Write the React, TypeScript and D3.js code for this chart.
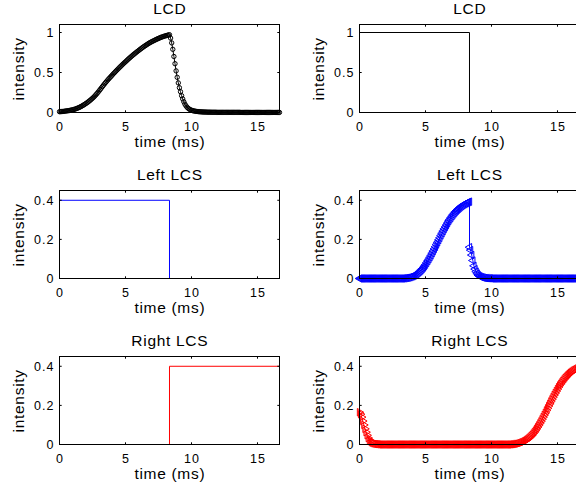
import React from "react";
import * as d3 from "d3";

// One refresh frame, split in two halves by the shutter switch.
const FRAME_MS = 16.6667;
const SWITCH_MS = 8.3333;
const SAMPLE_COUNT = 201;

const xTicks = [0, 5, 10, 15];
const yTicksLcd = [0, 0.5, 1];
const yTicksLcs = [0, 0.2, 0.4];

// Ideal drive signals (piecewise constant)
const stepTimes = [0, SWITCH_MS, SWITCH_MS, FRAME_MS];
const lcdDrive = [1, 1, 0, 0];
const leftShutter = [0.4, 0.4, 0, 0];
const rightShutter = [0, 0, 0.4, 0.4];

// Measured LCD response, one value per sample
const lcdResponse = [
  0.010, 0.011, 0.012, 0.013, 0.015, 0.017, 0.019, 0.021, 0.023, 0.025,
  0.028, 0.031, 0.034, 0.038, 0.042, 0.047, 0.052, 0.058, 0.064, 0.071,
  0.078, 0.086, 0.094, 0.103, 0.112, 0.122, 0.132, 0.143, 0.154, 0.166,
  0.178, 0.191, 0.205, 0.220, 0.236, 0.253, 0.270, 0.288, 0.306, 0.324,
  0.342, 0.359, 0.376, 0.392, 0.408, 0.424, 0.439, 0.454, 0.469, 0.484,
  0.498, 0.513, 0.527, 0.541, 0.555, 0.569, 0.582, 0.596, 0.609, 0.622,
  0.634, 0.647, 0.660, 0.673, 0.685, 0.697, 0.709, 0.721, 0.732, 0.743,
  0.754, 0.765, 0.775, 0.786, 0.797, 0.807, 0.817, 0.827, 0.836, 0.845,
  0.854, 0.863, 0.871, 0.879, 0.886, 0.893, 0.900, 0.907, 0.914, 0.920,
  0.926, 0.932, 0.938, 0.943, 0.948, 0.953, 0.957, 0.961, 0.965, 0.969,
  0.972,
  0.930, 0.870, 0.790, 0.700, 0.610, 0.520, 0.440, 0.370, 0.310, 0.260,
  0.210, 0.170, 0.135, 0.105, 0.083, 0.065, 0.052, 0.042, 0.034, 0.028,
  0.024, 0.020, 0.017, 0.015, 0.013, 0.011, 0.010, 0.009, 0.008, 0.007,
  0.006, 0.006, 0.005, 0.005, 0.004, 0.004, 0.004, 0.003, 0.003, 0.003,
  0.003, 0.003, 0.002, 0.002, 0.002, 0.002, 0.002, 0.002, 0.002, 0.002,
  0.002, 0.002, 0.002, 0.002, 0.002, 0.002, 0.002, 0.002, 0.002, 0.002,
  0.002, 0.002, 0.002, 0.002, 0.001, 0.001, 0.001, 0.001, 0.001, 0.001,
  0.001, 0.001, 0.001, 0.001, 0.001, 0.001, 0.001, 0.001, 0.001, 0.001,
  0.001, 0.001, 0.001, 0.001, 0.001, 0.001, 0.001, 0.001, 0.001, 0.001,
  0.001, 0.001, 0.001, 0.001, 0.001, 0.001, 0.001, 0.001, 0.001, 0.001,
];

// Light reaching the left eye: samples up to the switch, then after it
const leftSeenOpen = [
  0, 0, 0, 0, 0, 0, 0, 0, 0, 0,
  0, 0, 0, 0, 0, 0, 0, 0, 0, 0,
  0, 0, 0, 0, 0, 0, 0, 0, 0, 0,
  0, 0, 0, 0, 0, 0, 0, 0, 0, 0,
  0.001, 0.001, 0.002, 0.003, 0.004, 0.005, 0.007, 0.009, 0.011, 0.013,
  0.016, 0.019, 0.023, 0.027, 0.032, 0.037, 0.043, 0.049, 0.056, 0.063,
  0.071, 0.080, 0.089, 0.098, 0.108, 0.118, 0.129, 0.140, 0.151, 0.162,
  0.174, 0.185, 0.197, 0.208, 0.220, 0.231, 0.242, 0.253, 0.263, 0.273,
  0.283, 0.293, 0.302, 0.310, 0.318, 0.326, 0.333, 0.340, 0.346, 0.352,
  0.357, 0.362, 0.367, 0.371, 0.375, 0.379, 0.382, 0.385, 0.388, 0.391,
  0.393,
];
const leftSeenClosed = [
  0.160, 0.145, 0.120, 0.092, 0.065, 0.048, 0.035, 0.025, 0.017, 0.012,
  0.009, 0.007, 0.005, 0.004, 0.003, 0.002, 0.002, 0.001, 0.001, 0.001,
  0, 0, 0, 0, 0, 0, 0, 0, 0, 0,
  0, 0, 0, 0, 0, 0, 0, 0, 0, 0,
  0, 0, 0, 0, 0, 0, 0, 0, 0, 0,
  0, 0, 0, 0, 0, 0, 0, 0, 0, 0,
  0, 0, 0, 0, 0, 0, 0, 0, 0, 0,
  0, 0, 0, 0, 0, 0, 0, 0, 0, 0,
  0, 0, 0, 0, 0, 0, 0, 0, 0, 0,
  0, 0, 0, 0, 0, 0, 0, 0, 0, 0,
  0,
];

// Light reaching the right eye over the whole frame
const rightSeen = [
  0.165, 0.155, 0.140, 0.120, 0.100, 0.080, 0.063, 0.047, 0.033, 0.024,
  0.017, 0.012, 0.009, 0.007, 0.005, 0.004, 0.003, 0.002, 0.002, 0.001,
  0.001, 0, 0, 0, 0, 0, 0, 0, 0, 0,
  0, 0, 0, 0, 0, 0, 0, 0, 0, 0,
  0, 0, 0, 0, 0, 0, 0, 0, 0, 0,
  0, 0, 0, 0, 0, 0, 0, 0, 0, 0,
  0, 0, 0, 0, 0, 0, 0, 0, 0, 0,
  0, 0, 0, 0, 0, 0, 0, 0, 0, 0,
  0, 0, 0, 0, 0, 0, 0, 0, 0, 0,
  0, 0, 0, 0, 0, 0, 0, 0, 0, 0,
  0, 0, 0, 0, 0, 0, 0, 0, 0, 0,
  0, 0, 0, 0, 0, 0, 0, 0, 0, 0,
  0, 0, 0, 0, 0, 0, 0, 0, 0, 0,
  0, 0, 0, 0, 0, 0, 0, 0, 0, 0,
  0.001, 0.001, 0.002, 0.003, 0.004, 0.005, 0.007, 0.009, 0.011, 0.013,
  0.016, 0.019, 0.023, 0.027, 0.032, 0.037, 0.043, 0.049, 0.056, 0.063,
  0.071, 0.080, 0.089, 0.098, 0.108, 0.118, 0.129, 0.140, 0.151, 0.162,
  0.174, 0.185, 0.197, 0.208, 0.220, 0.231, 0.242, 0.253, 0.263, 0.273,
  0.283, 0.293, 0.302, 0.310, 0.318, 0.326, 0.333, 0.340, 0.346, 0.352,
  0.357, 0.362, 0.367, 0.371, 0.375, 0.379, 0.382, 0.385, 0.388, 0.391,
  0.393,
];

const sampleTimes = d3.range(SAMPLE_COUNT).map((i) => (i * FRAME_MS) / (SAMPLE_COUNT - 1));
const HALF = (SAMPLE_COUNT - 1) / 2;

type Pt = [number, number];
const zip = (ts: number[], vs: number[]): Pt[] => vs.map((v, i) => [ts[i], v]);

const W = 576;
const H = 491;
const COL_X = [59.5, 359.5];
const ROW_Y = [24.5, 190.5, 356.5];
const PW = 220;
const PH = 88;
const FONT = "'Liberation Sans', Arial, Helvetica, sans-serif";
const TICK_FS = 12.5;
const TICK_LS = 1;
const LABEL_FS = 15.5;
const LABEL_LS = 0.7;

type Series = {
  points: Pt[];
  color: string;
  marker?: "circle" | "triLeft" | "triRight";
};

function Panel(props: {
  left: number;
  top: number;
  title: string;
  yMax: number;
  yTicks: number[];
  series: Series[];
}) {
  const { left, top, title, yMax, yTicks, series } = props;
  const x = d3.scaleLinear().domain([0, FRAME_MS]).range([left, left + PW]);
  const y = d3.scaleLinear().domain([0, yMax]).range([top + PH, top]);
  const line = d3
    .line<Pt>()
    .x((d) => x(d[0]))
    .y((d) => y(d[1]));
  const circle = d3.symbol(d3.symbolCircle, 15)() as string;
  const tri = d3.symbol(d3.symbolTriangle, 24)() as string;
  const bottom = top + PH;
  const tl = 2.2;
  return (
    <g>
      {series.map((s, k) => (
        <g key={k}>
          <path d={line(s.points) as string} fill="none" stroke={s.color} strokeWidth={1} />
          {s.marker &&
            s.points.map((p, j) => (
              <path
                key={j}
                d={s.marker === "circle" ? circle : tri}
                transform={`translate(${x(p[0])},${y(p[1])})${
                  s.marker === "triLeft" ? " rotate(-90)" : s.marker === "triRight" ? " rotate(90)" : ""
                }`}
                fill="none"
                stroke={s.color}
                strokeWidth={1}
              />
            ))}
        </g>
      ))}
      <rect x={left} y={top} width={PW} height={PH} fill="none" stroke="#000" strokeWidth={1} />
      {xTicks.map((t) => (
        <g key={"x" + t}>
          <line x1={x(t)} x2={x(t)} y1={bottom} y2={bottom - tl} stroke="#000" />
          <line x1={x(t)} x2={x(t)} y1={top} y2={top + tl} stroke="#000" />
          <text
            x={x(t) + TICK_LS / 2}
            y={bottom + 18.5}
            textAnchor="middle"
            fontSize={TICK_FS}
            letterSpacing={TICK_LS}
            fontFamily={FONT}
            fill="#000"
          >
            {t}
          </text>
        </g>
      ))}
      {yTicks.map((v) => (
        <g key={"y" + v}>
          <line x1={left} x2={left + tl} y1={y(v)} y2={y(v)} stroke="#000" />
          <line x1={left + PW} x2={left + PW - tl} y1={y(v)} y2={y(v)} stroke="#000" />
          <text
            x={left - 6 + TICK_LS}
            y={y(v) + 4.5}
            textAnchor="end"
            fontSize={TICK_FS}
            letterSpacing={TICK_LS}
            fontFamily={FONT}
            fill="#000"
          >
            {v}
          </text>
        </g>
      ))}
      <text
        x={left + PW / 2 + LABEL_LS / 2}
        y={top - 10.5}
        textAnchor="middle"
        fontSize={LABEL_FS}
        letterSpacing={LABEL_LS}
        fontFamily={FONT}
        fill="#000"
      >
        {title}
      </text>
      <text
        x={left + PW / 2 + LABEL_LS / 2}
        y={bottom + 34.5}
        textAnchor="middle"
        fontSize={LABEL_FS}
        letterSpacing={LABEL_LS}
        fontFamily={FONT}
        fill="#000"
      >
        time (ms)
      </text>
      <text
        transform={`translate(${left - 36},${top + PH / 2 + LABEL_LS / 2}) rotate(-90)`}
        textAnchor="middle"
        fontSize={LABEL_FS}
        letterSpacing={LABEL_LS}
        fontFamily={FONT}
        fill="#000"
      >
        intensity
      </text>
    </g>
  );
}

export default function App() {
  const leftSeen: Pt[] = [
    ...zip(sampleTimes.slice(0, HALF + 1), leftSeenOpen),
    ...zip(sampleTimes.slice(HALF), leftSeenClosed),
  ];
  return (
    <svg width={W} height={H} style={{ position: "absolute", left: 0, top: 0, background: "#fff" }}>
      <rect width={W} height={H} fill="#fff" />
      <Panel
        left={COL_X[0]}
        top={ROW_Y[0]}
        title="LCD"
        yMax={1.1}
        yTicks={yTicksLcd}
        series={[{ points: zip(sampleTimes, lcdResponse), color: "#000", marker: "circle" }]}
      />
      <Panel
        left={COL_X[1]}
        top={ROW_Y[0]}
        title="LCD"
        yMax={1.1}
        yTicks={yTicksLcd}
        series={[{ points: zip(stepTimes, lcdDrive), color: "#000" }]}
      />
      <Panel
        left={COL_X[0]}
        top={ROW_Y[1]}
        title="Left LCS"
        yMax={0.45}
        yTicks={yTicksLcs}
        series={[{ points: zip(stepTimes, leftShutter), color: "#0000ff" }]}
      />
      <Panel
        left={COL_X[1]}
        top={ROW_Y[1]}
        title="Left LCS"
        yMax={0.45}
        yTicks={yTicksLcs}
        series={[{ points: leftSeen, color: "#0000ff", marker: "triLeft" }]}
      />
      <Panel
        left={COL_X[0]}
        top={ROW_Y[2]}
        title="Right LCS"
        yMax={0.45}
        yTicks={yTicksLcs}
        series={[{ points: zip(stepTimes, rightShutter), color: "#ff0000" }]}
      />
      <Panel
        left={COL_X[1]}
        top={ROW_Y[2]}
        title="Right LCS"
        yMax={0.45}
        yTicks={yTicksLcs}
        series={[{ points: zip(sampleTimes, rightSeen), color: "#ff0000", marker: "triRight" }]}
      />
    </svg>
  );
}
